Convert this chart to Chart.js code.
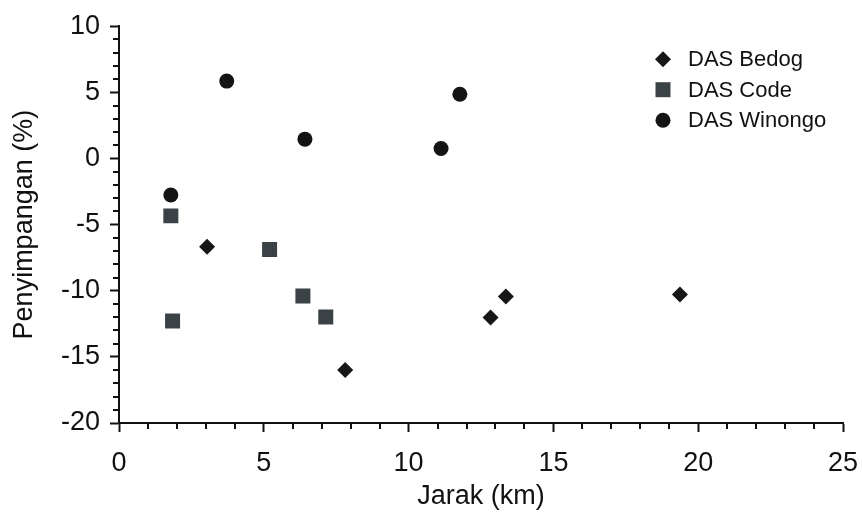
<!DOCTYPE html>
<html>
<head>
<meta charset="utf-8">
<script src="https://cdn.jsdelivr.net/npm/chart.js@4/dist/chart.umd.min.js"></script>
<style>
   html, body { margin: 0; padding: 0; background: #fff; }
   #wrap { width: 862px; height: 514px; }
</style>
</head>
<body>
<div id="wrap"><canvas id="scatter"></canvas></div>
<script>
const seriesNames = ['DAS Bedog', 'DAS Code', 'DAS Winongo']

const bedogX = [3.04, 7.81, 12.83, 13.36, 19.37]
const bedogY = [-6.68, -16.0, -12.03, -10.43, -10.28]
const codeX = [1.79, 1.85, 5.20, 6.35, 7.14]
const codeY = [-4.34, -12.29, -6.88, -10.40, -11.99]
const winongoX = [1.79, 3.72, 6.42, 11.12, 11.77]
const winongoY = [-2.76, 5.85, 1.46, 0.75, 4.85]

const xTicks = [0, 5, 10, 15, 20, 25]
const yTicks = [-20, -15, -10, -5, 0, 5, 10]

const ink = '#111111'
const styles = [
   { shape: 'rectRot', color: '#171717', radius: 8 },
   { shape: 'rect', color: '#3a4245', radius: 10.6 },
   { shape: 'circle', color: '#141414', radius: 7.5 }
]

function toPoints(xs, ys) {
   return xs.map((x, i) => ({ x: x, y: ys[i] }))
}

// short ticks at every unit, long ones come from chart.js at the labelled values
const minorTicks = {
   id: 'minorTicks',
   afterDraw(chart) {
      const ctx = chart.ctx
      const { x, y } = chart.scales
      ctx.save()
      ctx.strokeStyle = ink
      ctx.lineWidth = 2
      ctx.beginPath()
      x.ticks.forEach(t => {
         if (xTicks.includes(t.value)) return
         const px = Math.round(x.getPixelForValue(t.value)) 
         ctx.moveTo(px, y.bottom)
         ctx.lineTo(px, y.bottom + 6)
      })
      y.ticks.forEach(t => {
         if (yTicks.includes(t.value)) return
         const py = Math.round(y.getPixelForValue(t.value))
         ctx.moveTo(x.left, py)
         ctx.lineTo(x.left - 6, py)
      })
      ctx.stroke()
      ctx.restore()
   }
}

// legend sits inside the plot, top right
const innerLegend = {
   id: 'innerLegend',
   afterDraw(chart) {
      const ctx = chart.ctx
      const area = chart.chartArea
      const mx = area.right - 180
      const tx = area.right - 155
      ctx.save()
      ctx.font = '22px "Liberation Sans", Arial, sans-serif'
      ctx.textBaseline = 'middle'
      seriesNames.forEach((name, i) => {
         const cy = area.top + 33 + i * 30.5
         const s = styles[i]
         ctx.fillStyle = s.color
         ctx.beginPath()
         if (s.shape === 'rectRot') {
            ctx.moveTo(mx - s.radius, cy)
            ctx.lineTo(mx, cy - s.radius)
            ctx.lineTo(mx + s.radius, cy)
            ctx.lineTo(mx, cy + s.radius)
            ctx.closePath()
         } else if (s.shape === 'rect') {
            const h = s.radius * Math.SQRT1_2
            ctx.rect(mx - h, cy - h, 2 * h, 2 * h)
         } else {
            ctx.arc(mx, cy, s.radius, 0, Math.PI * 2)
         }
         ctx.fill()
         ctx.fillStyle = ink
         ctx.fillText(name, tx, cy + 1)
      })
      ctx.restore()
   }
}

const allX = [bedogX, codeX, winongoX]
const allY = [bedogY, codeY, winongoY]

const tickFont = { family: '"Liberation Sans", Arial, sans-serif', size: 27 }

new Chart(document.getElementById('scatter'), {
   type: 'scatter',
   data: {
      datasets: seriesNames.map((name, i) => ({
         label: name,
         data: toPoints(allX[i], allY[i]),
         pointStyle: styles[i].shape,
         pointRadius: styles[i].radius,
         pointHoverRadius: styles[i].radius,
         backgroundColor: styles[i].color,
         borderColor: styles[i].color,
         borderWidth: 0
      }))
   },
   plugins: [minorTicks, innerLegend],
   options: {
      responsive: true,
      maintainAspectRatio: false,
      animation: false,
      layout: { padding: { top: 25, right: 19, bottom: 0, left: 0 } },
      plugins: {
         legend: { display: false },
         tooltip: { enabled: false }
      },
      scales: {
         x: {
            type: 'linear',
            min: 0,
            max: 25,
            afterFit: s => { s.height = 91; s.paddingRight = 0; s.paddingLeft = 0 },
            ticks: {
               stepSize: 1,
               autoSkip: false,
               maxRotation: 0,
               padding: 15,
               color: ink,
               font: tickFont,
               callback: v => xTicks.includes(v) ? v : ''
            },
            grid: {
               drawOnChartArea: false,
               tickLength: 9,
               tickWidth: 2,
               tickColor: c => xTicks.includes(c.tick && c.tick.value) ? ink : 'rgba(0,0,0,0)'
            },
            border: { color: ink, width: 2 },
            title: {
               display: true,
               text: 'Jarak (km)',
               color: ink,
               font: tickFont,
               padding: { top: 0, bottom: 1 }
            }
         },
         y: {
            type: 'linear',
            min: -20,
            max: 10,
            afterFit: s => { s.width = 119 },
            ticks: {
               stepSize: 1,
               autoSkip: false,
               padding: 10,
               color: ink,
               font: tickFont,
               callback: v => yTicks.includes(v) ? v : ''
            },
            grid: {
               drawOnChartArea: false,
               tickLength: 9,
               tickWidth: 2,
               tickColor: c => yTicks.includes(c.tick && c.tick.value) ? ink : 'rgba(0,0,0,0)'
            },
            border: { color: ink, width: 2 },
            title: {
               display: true,
               text: 'Penyimpangan (%)',
               color: ink,
               font: tickFont,
               padding: { top: 8, bottom: 0 }
            }
         }
      }
   }
})
</script>
</body>
</html>
